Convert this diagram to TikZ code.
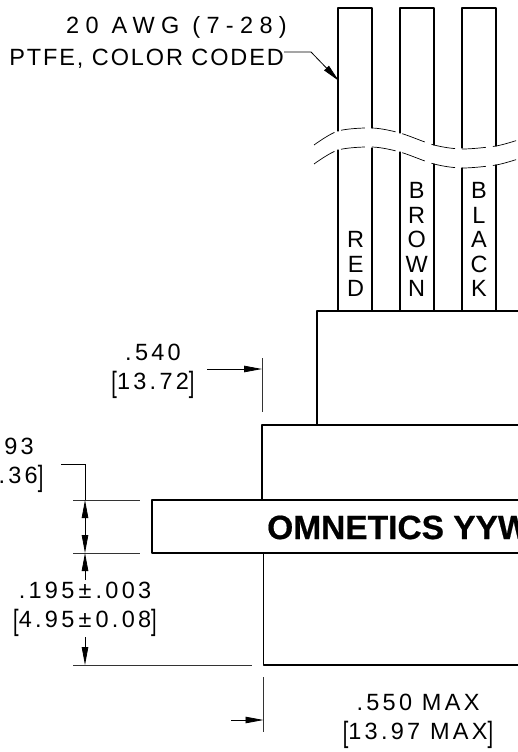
\documentclass[tikz,border=0pt]{standalone}
\usepackage{fontspec}
\usetikzlibrary{arrows.meta}
\setmainfont{Liberation Sans}
\newfontfamily\widefont[LetterSpace=27]{Liberation Sans}
\newfontfamily\dimfont[LetterSpace=14]{Liberation Sans}
\newfontfamily\noteFont[LetterSpace=8]{Liberation Sans}
\newfontfamily\markfont[FakeBold=0.6]{Liberation Sans Bold}
\newcommand{\tallbrk}[1]{\raisebox{-3.4pt}[0pt][0pt]{\scalebox{0.85}[1.25]{#1}}}
\tikzset{
    part/.style={ % outline of the connector body and the wires
        line width=1.3pt,
        line cap=round,
        line join=round
    },
    dimtip/.tip={Triangle[length=18pt,width=6.5pt]},
    dimline/.style={ % dimension lines and leaders
        line width=0.8pt,
        -dimtip
    },
    extline/.style={ % extension lines
        line width=0.8pt,
        black!80
    },
    breakline/.style={ % wavy break across the wires
        line width=0.7pt,
        dash pattern=on 24pt off 7pt
    },
    dimtext/.style={
        font=\fontsize{23.5}{29}\selectfont\dimfont,
        align=center,
        inner sep=0pt
    },
    colortext/.style={
        font=\fontsize{23.5}{24.5}\selectfont,
        align=center,
        anchor=south,
        inner sep=0pt
    }
}
\begin{document}
\begin{tikzpicture}[x=1pt,y=-1pt]
        \path[use as bounding box,clip] (0,0) rectangle (518,752);

        % wires above the break
        \draw[part] (338,131) -- (338,8) -- (372,8) -- (372,128);
        \draw[part] (400,133) -- (400,8) -- (434,8) -- (434,145);
        \draw[part] (462,148) -- (462,8) -- (496,8) -- (496,146);
        % wires below the break
        \draw[part] (338,150) -- (338,311);
        \draw[part] (372,148) -- (372,311);
        \draw[part] (400,152) -- (400,311);
        \draw[part] (434,164) -- (434,311);
        \draw[part] (462,168) -- (462,311);
        \draw[part] (496,165) -- (496,311);
        % break
        \draw[breakline] plot[smooth] coordinates
                {(314,145) (338,131) (372,128) (400,133) (434,145) (462,149) (496,146) (518,140)};
        \draw[breakline] plot[smooth] coordinates
                {(314,164) (338,150) (372,147) (400,152) (434,164) (462,168) (496,165) (518,159)};

        % connector body
        \draw[part] (518,311) -- (317,311) -- (317,425);
        \draw[part] (518,425) -- (262,425) -- (262,500);
        \draw[part] (518,500) -- (152,500) -- (152,553) -- (518,553);
        \draw[part] (263.5,553) -- (263.5,665) -- (518,665);

        % wire colors
        \node[colortext] (red)   at (355.7,297) {R\\E\\D};
        \node[colortext] (brown) at (416.7,297) {B\\R\\O\\W\\N};
        \node[colortext] (black) at (479,297)   {B\\L\\A\\C\\K};

        % marking
        \node[anchor=base west,inner sep=0pt,font=\fontsize{33.5}{34}\selectfont\markfont]
                (mark) at (267,539) {OMNETICS YYW};

        % wire note
        \node[anchor=base east,inner sep=0pt,font=\fontsize{23.5}{26}\selectfont\widefont]
                (awg) at (287,34) {20 AWG (7-28)};
        \node[anchor=base east,inner sep=0pt,font=\fontsize{23.5}{26}\selectfont\noteFont]
                (ptfe) at (284,66) {PTFE, COLOR CODED};
        \coordinate (wirehit) at (339,81);
        \draw[dimline] (ptfe.east |- 0,52) -- (311,52) -- (wirehit);

        % .540
        \node[dimtext] (d540) at (153,367) {.540\\\tallbrk{[}13.72\tallbrk{]}};
        \coordinate (e540a) at (262,358);
        \coordinate (e540b) at (262,412);
        \coordinate (a540s) at (207,369);
        \coordinate (a540e) at (262,369);
        \draw[extline] (e540a) -- (e540b);
        \draw[dimline] (a540s) -- (a540e);

        % .093
        \node[dimtext] (d093) at (10,461) {.093\kern8pt\\\tallbrk{[}2.36\tallbrk{]}};
        \coordinate (top093) at (85,500);
        \coordinate (bot093) at (85,553);
        \coordinate (lead093) at (61,464);
        \draw[extline] (73,500) coordinate (e093a) -- (140,500) coordinate (e093b);
        \draw[extline] (73,553) coordinate (e093c) -- (140,553) coordinate (e093d);
        \draw[line width=0.8pt] (lead093) -- (85,464) -- (top093);
        \draw[dimline,dimtip-dimtip] (top093) -- (bot093);

        % .195
        \node[dimtext] (d195) at (85,605) {.195$\,$±$\,$.003\\\tallbrk{[}4.95$\,$±$\,$0.08\tallbrk{]}};
        \coordinate (up195) at (85,580);
        \coordinate (dn195) at (85,637);
        \coordinate (bot195) at (85,665);
        \draw[dimline] (up195) -- (bot093);
        \draw[dimline] (dn195) -- (bot195);
        \draw[extline] (73,665) coordinate (e195a) -- (252,665) coordinate (e195b);

        % .550
        \node[dimtext] (d550) at (418,717) {.550 MAX\\\tallbrk{[}13.97 MAX\tallbrk{]}};
        \coordinate (e550a) at (263.5,677);
        \coordinate (e550b) at (263.5,732);
        \coordinate (a550s) at (231,720);
        \coordinate (a550e) at (263.5,720);
        \draw[extline] (e550a) -- (e550b);
        \draw[dimline] (a550s) -- (a550e);
\end{tikzpicture}
\end{document}
